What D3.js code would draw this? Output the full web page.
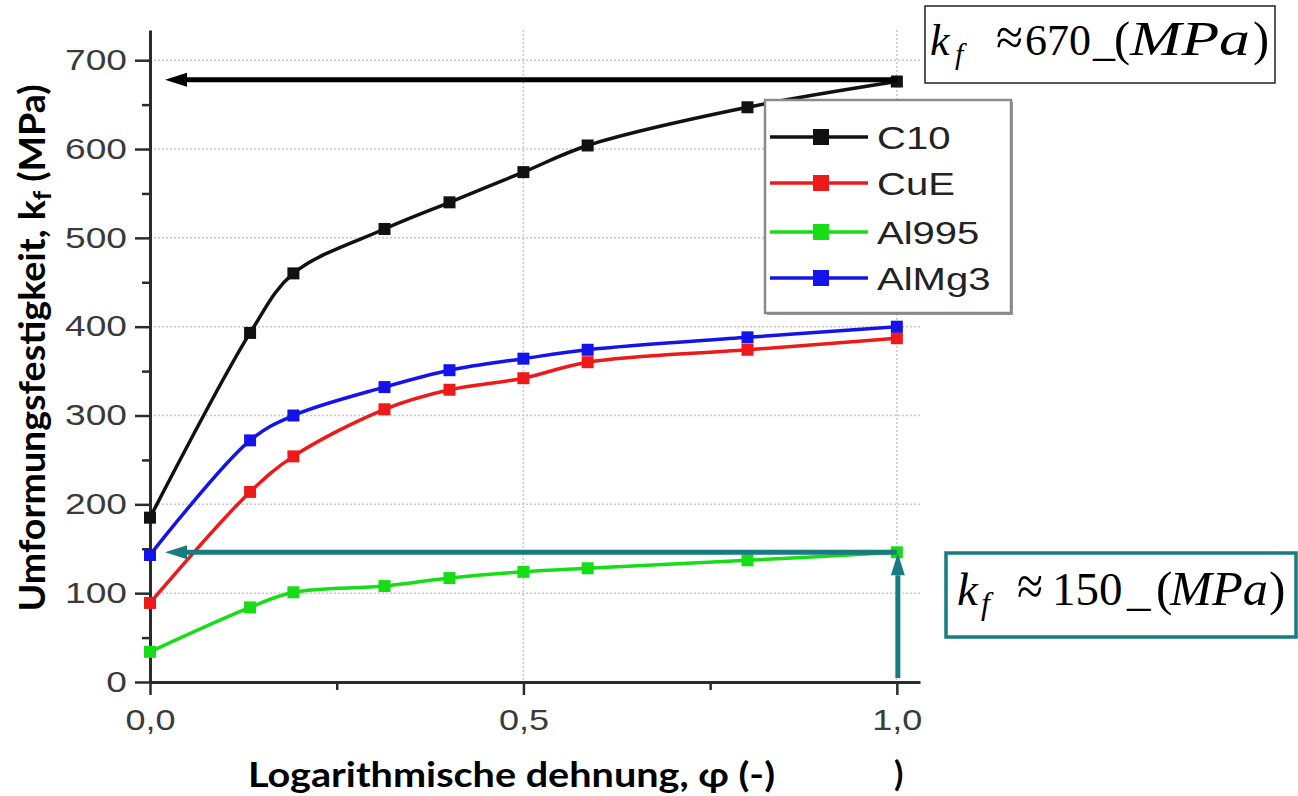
<!DOCTYPE html>
<html lang="de">
<head>
    <meta charset="utf-8">
    <title>Umformungsfestigkeit über logarithmische Dehnung</title>
    <style>
        body { margin: 0; background: #fff; }
        .tick text { font-family: "Liberation Sans", Arial, sans-serif; fill: #3a3a3a; }
        .axis path, .axis line { stroke: #2b2b2b; }
        .grid line { stroke: #c8c8c8; stroke-width: 1.5; stroke-dasharray: 2,2; }
        .label { font-family: Lato, "Open Sans", sans-serif; font-weight: bold; fill: #000; }
        .kf text { font-family: "Liberation Serif", "Times New Roman", serif; fill: #000; }
    </style>
    <!-- load the d3.js library -->
    <script src="https://d3js.org/d3.v7.min.js"></script>
</head>
<body>
    <svg></svg>
    <script>
        // data
        var phi = [0, 0.134, 0.192, 0.314, 0.401, 0.5, 0.586, 0.8, 1.0];
        var names = ["C10", "CuE", "Al995", "AlMg3"];
        var colors = ["#111111", "#ee1a1a", "#16dd16", "#1414ea"];
        var c10 = [185, 393, 460, 510, 540, 574, 604, 647, 676];
        var cuE = [89, 214, 254, 307, 329, 342, 360, 374, 387];
        var al995 = [34, 84, 101, 108, 117, 124, 128, 137, 146];
        var alMg3 = [143, 272, 300, 332, 351, 364, 374, 388, 400];
        var yTicks = [0, 100, 200, 300, 400, 500, 600, 700];
        var yMinor = [50, 150, 250, 350, 450, 550, 650];
        var xTicks = [0, 0.5, 1.0];
        var xMinor = [0.25, 0.75];
        var kfLevels = [678, 146]; // arrows: C10 and Al995 at phi = 1
        var teal = "#177b80";

        var series = names.map(function(n, i) {
            return { name: n, color: colors[i], values: [c10, cuE, al995, alMg3][i] };
        });

        var W = 1298, H = 796;
        var svg = d3.select("svg").attr("width", W).attr("height", H);

        // set the ranges
        var x = d3.scaleLinear().domain([0, 1.031]).range([150, 920]);
        var y = d3.scaleLinear().domain([0, 734]).range([682, 30]);

        function stretch(sel, k) {
            sel.each(function() {
                var w = this.getComputedTextLength();
                d3.select(this).attr("textLength", w * k).attr("lengthAdjust", "spacingAndGlyphs");
            });
        }

        // dotted grid
        var grid = svg.append("g").attr("class", "grid");
        grid.selectAll(".h").data(yTicks.slice(1)).enter().append("line")
            .attr("x1", x(0)).attr("x2", x.range()[1])
            .attr("y1", function(d) { return y(d); }).attr("y2", function(d) { return y(d); });
        grid.selectAll(".v").data(xTicks.slice(1)).enter().append("line")
            .attr("x1", function(d) { return x(d); }).attr("x2", function(d) { return x(d); })
            .attr("y1", y.range()[1]).attr("y2", y(0));

        // minor ticks
        svg.append("g").attr("class", "axis")
            .attr("transform", "translate(" + x(0) + ",0)")
            .call(d3.axisLeft(y).tickValues(yMinor).tickSize(8).tickFormat("").tickSizeOuter(0))
            .call(function(g) { g.select(".domain").remove(); g.selectAll("line").attr("stroke-width", 2.5); });
        svg.append("g").attr("class", "axis")
            .attr("transform", "translate(0," + y(0) + ")")
            .call(d3.axisBottom(x).tickValues(xMinor).tickSize(8).tickFormat("").tickSizeOuter(0))
            .call(function(g) { g.select(".domain").remove(); g.selectAll("line").attr("stroke-width", 2.5); });

        // y axis
        var gy = svg.append("g").attr("class", "axis")
            .attr("transform", "translate(" + x(0) + ",0)")
            .call(d3.axisLeft(y).tickValues(yTicks).tickSize(15).tickPadding(8).tickSizeOuter(0));
        gy.select(".domain").attr("stroke-width", 3);
        gy.selectAll(".tick line").attr("stroke-width", 2.5);
        gy.selectAll(".tick text").attr("font-size", 29).call(stretch, 1.28);

        // x axis
        var gx = svg.append("g").attr("class", "axis")
            .attr("transform", "translate(0," + y(0) + ")")
            .call(d3.axisBottom(x).tickValues(xTicks).tickSize(13).tickPadding(14).tickSizeOuter(0)
                .tickFormat(function(d) { return d3.format(".1f")(d).replace(".", ","); }));
        gx.select(".domain").attr("stroke-width", 3);
        gx.selectAll(".tick line").attr("stroke-width", 2.5);
        gx.selectAll(".tick text").attr("font-size", 30).call(stretch, 1.2);

        // lines and markers
        var line = d3.line()
            .x(function(d, i) { return x(phi[i]); })
            .y(function(d) { return y(d); })
            .curve(d3.curveCatmullRom.alpha(0.5));

        var gs = svg.selectAll(".series").data(series).enter().append("g").attr("class", "series");
        gs.append("path")
            .attr("d", function(d) { return line(d.values); })
            .attr("fill", "none")
            .attr("stroke", function(d) { return d.color; })
            .attr("stroke-width", 3.5);
        gs.selectAll("rect")
            .data(function(d) { return d.values.map(function(v, i) { return { v: v, i: i, c: d.color }; }); })
            .enter().append("rect")
            .attr("x", function(d) { return x(phi[d.i]) - 6; })
            .attr("y", function(d) { return y(d.v) - 6; })
            .attr("width", 12).attr("height", 12)
            .attr("fill", function(d) { return d.c; });

        // arrows
        function arrow(x1, y1, x2, y2, color, w, len, half) {
            var a = Math.atan2(y2 - y1, x2 - x1);
            var bx = x2 - len * Math.cos(a), by = y2 - len * Math.sin(a);
            svg.append("line")
                .attr("x1", x1).attr("y1", y1).attr("x2", bx).attr("y2", by)
                .attr("stroke", color).attr("stroke-width", w);
            var px = -Math.sin(a) * half, py = Math.cos(a) * half;
            svg.append("path")
                .attr("d", "M" + x2 + "," + y2 + "L" + (bx + px) + "," + (by + py) + "L" + (bx - px) + "," + (by - py) + "Z")
                .attr("fill", color);
        }
        arrow(x(1), y(kfLevels[0]), x(0) + 15, y(kfLevels[0]), "#000", 5, 22, 7);
        arrow(x(1), y(kfLevels[1]), x(0) + 15, y(kfLevels[1]), teal, 5, 22, 7);
        arrow(x(1) + 1, y(0) - 4, x(1) + 1, y(kfLevels[1]) + 1, teal, 5, 22, 7);

        // legend
        var lg = svg.append("g").attr("transform", "translate(765,100)");
        lg.append("rect").attr("x", 2).attr("y", 2).attr("width", 246).attr("height", 213).attr("fill", "#9a9a9a");
        lg.append("rect").attr("width", 246).attr("height", 213)
            .attr("fill", "#fff").attr("stroke", "#8a8a8a").attr("stroke-width", 2.5);
        var rows = [37, 83, 132, 178];
        var li = lg.selectAll(".li").data(series).enter().append("g")
            .attr("transform", function(d, i) { return "translate(0," + rows[i] + ")"; });
        li.append("line").attr("x1", 5).attr("x2", 103)
            .attr("stroke", function(d) { return d.color; }).attr("stroke-width", 3.5);
        li.append("rect").attr("x", 48).attr("y", -8).attr("width", 16).attr("height", 16)
            .attr("fill", function(d) { return d.color; });
        li.append("text").attr("x", 112).attr("dy", "0.36em")
            .attr("font-family", "'Liberation Sans', Arial, sans-serif")
            .attr("font-size", 32).attr("fill", "#222")
            .text(function(d) { return d.name; })
            .call(stretch, 1.25);

        // axis labels
        var yl = svg.append("text").attr("class", "label")
            .attr("transform", "translate(45,348) rotate(-90)")
            .attr("text-anchor", "middle").attr("font-size", 36);
        yl.append("tspan").text("Umformungsfestigkeit, k");
        yl.append("tspan").attr("font-size", 25).attr("dy", 6).text("f");
        yl.append("tspan").attr("dy", -6).text(" (MPa)");
        yl.attr("textLength", 527).attr("lengthAdjust", "spacingAndGlyphs");

        svg.append("text").attr("class", "label")
            .attr("x", 248).attr("y", 787).attr("font-size", 34)
            .attr("textLength", 527).attr("lengthAdjust", "spacingAndGlyphs")
            .text("Logarithmische dehnung, φ (-)");
        svg.append("text").attr("class", "label")
            .attr("x", 894).attr("y", 786).attr("font-size", 34).text(")");

        // k_f boxes
        function kfBox(bx, by, bw, bh, stroke, sw, base, fs, parts) {
            var g = svg.append("g").attr("class", "kf");
            g.append("rect").attr("x", bx).attr("y", by).attr("width", bw).attr("height", bh)
                .attr("fill", "#fff").attr("stroke", stroke).attr("stroke-width", sw);
            parts.forEach(function(p) {
                var size = fs * (p.s || 1);
                var t = g.append("text")
                    .attr("x", bx + p.dx)
                    .attr("y", base + (p.sub ? Math.round(fs * 0.2) : 0))
                    .attr("font-size", p.sub ? Math.round(fs * 0.68) : size)
                    .attr("font-style", p.it ? "italic" : "normal")
                    .text(p.t);
                if (p.w) t.attr("textLength", p.w).attr("lengthAdjust", "spacingAndGlyphs");
            });
        }
        kfBox(925, 6, 350, 77, "#222", 1.5, 55, 44, [
            { t: "k", dx: 5, it: true },
            { t: "f", dx: 30, it: true, sub: true },
            { t: "\u2248", dx: 71, s: 1.2, w: 27 },
            { t: "670", dx: 100 },
            { t: "_", dx: 168 },
            { t: "(", dx: 189, s: 1.1 },
            { t: "MPa", dx: 205, it: true, s: 1.1, w: 120 },
            { t: ")", dx: 328, s: 1.1 }
        ]);
        kfBox(946, 553, 350, 84, teal, 3.5, 605, 47, [
            { t: "k", dx: 11, it: true },
            { t: "f", dx: 35, it: true, sub: true },
            { t: "\u2248", dx: 71, s: 1.2, w: 26 },
            { t: "150", dx: 106 },
            { t: "_", dx: 181 },
            { t: "(", dx: 210, s: 1.05 },
            { t: "MPa", dx: 224, it: true, s: 1.05, w: 98 },
            { t: ")", dx: 323, s: 1.05 }
        ]);
    </script>
</body>
</html>
